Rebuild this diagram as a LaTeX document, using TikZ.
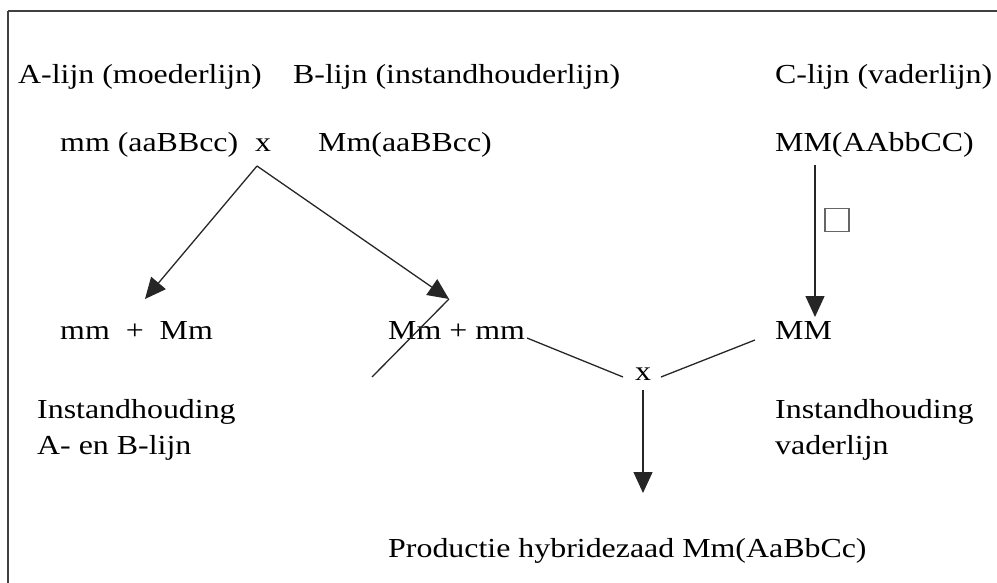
\documentclass[tikz,border=0pt]{standalone}
\usepackage{fontspec}
\setmainfont{Liberation Serif}[FakeStretch=1.16]
\usetikzlibrary{arrows.meta}
\tikzset{
  lbl/.style={anchor=base west, inner sep=0pt, font=\fontsize{27.5}{32}\selectfont},
  lblc/.style={anchor=base, inner sep=0pt, font=\fontsize{27.5}{32}\selectfont},
  conn/.style={line width=1.3pt, draw=black!85},
  arr/.style={conn, -{Triangle[length=21pt,width=19pt]}},
  frame/.style={line width=2.6pt, draw=black!75},
}
\begin{document}
\begin{tikzpicture}[x=1pt, y=-1pt]
  \useasboundingbox (0,0) rectangle (997,583);
  % open frame: only top and left edges fall inside the page
  \draw[frame] (8,11) -- (997,11);
  \draw[frame] (8,11) -- (8,583);

  % line headings
  \node[lbl] (hA) at (18,84) {A-lijn (moederlijn)};
  \node[lbl] (hB) at (293,84) {B-lijn (instandhouderlijn)};
  \node[lbl] (hC) at (775,84) {C-lijn (vaderlijn)};

  % parental genotypes
  \node[lbl] (pA) at (60,152) {mm (aaBBcc)};
  \node[lblc] (px) at (263,152) {x};
  \node[lbl] (pB) at (318,152) {Mm(aaBBcc)};
  \node[lbl] (pC) at (775,152) {MM(AAbbCC)};

  % offspring
  \node[lbl] (oA) at (60,339) {mm\ \ +\ \ Mm};
  \node[lbl] (oB) at (388,339) {Mm + mm};
  \node[lbl] (oC) at (775,339) {MM};
  \node[lblc] (cx) at (643,380) {x};

  % captions
  \node[lbl] (iA1) at (37,418) {Instandhouding};
  \node[lbl] (iA2) at (37,454) {A- en B-lijn};
  \node[lbl] (iC1) at (775,418) {Instandhouding};
  \node[lbl] (iC2) at (775,454) {vaderlijn};
  \node[lbl] (prod) at (388,557) {Productie hybridezaad Mm(AaBbCc)};

  % selfing mark
  \node[draw=black!60, line width=1.3pt, minimum width=24pt, minimum height=23pt,
        inner sep=0pt] (self) at (837,220) {};

  % connector end points
  \coordinate (apex) at (257,166);
  \coordinate (tipL) at (145,299);
  \coordinate (tipR) at (449,299);
  \coordinate (slashEnd) at (372,377);
  \coordinate (bEnd) at (527,338);
  \coordinate (xL) at (623,377);
  \coordinate (xR) at (661,377);
  \coordinate (cStart) at (755,340);
  \coordinate (xDown) at (643,390);
  \coordinate (prodTop) at (643,493);
  \coordinate (cTop) at (815,165);
  \coordinate (cTip) at (815,317);

  \draw[arr] (apex) -- (tipL);
  \draw[arr] (apex) -- (tipR);
  \draw[conn] (tipR) -- (slashEnd);
  \draw[conn] (bEnd) -- (xL);
  \draw[conn] (xR) -- (cStart);
  \draw[arr] (xDown) -- (prodTop);
  \draw[arr] (cTop) -- (cTip);
\end{tikzpicture}
\end{document}
